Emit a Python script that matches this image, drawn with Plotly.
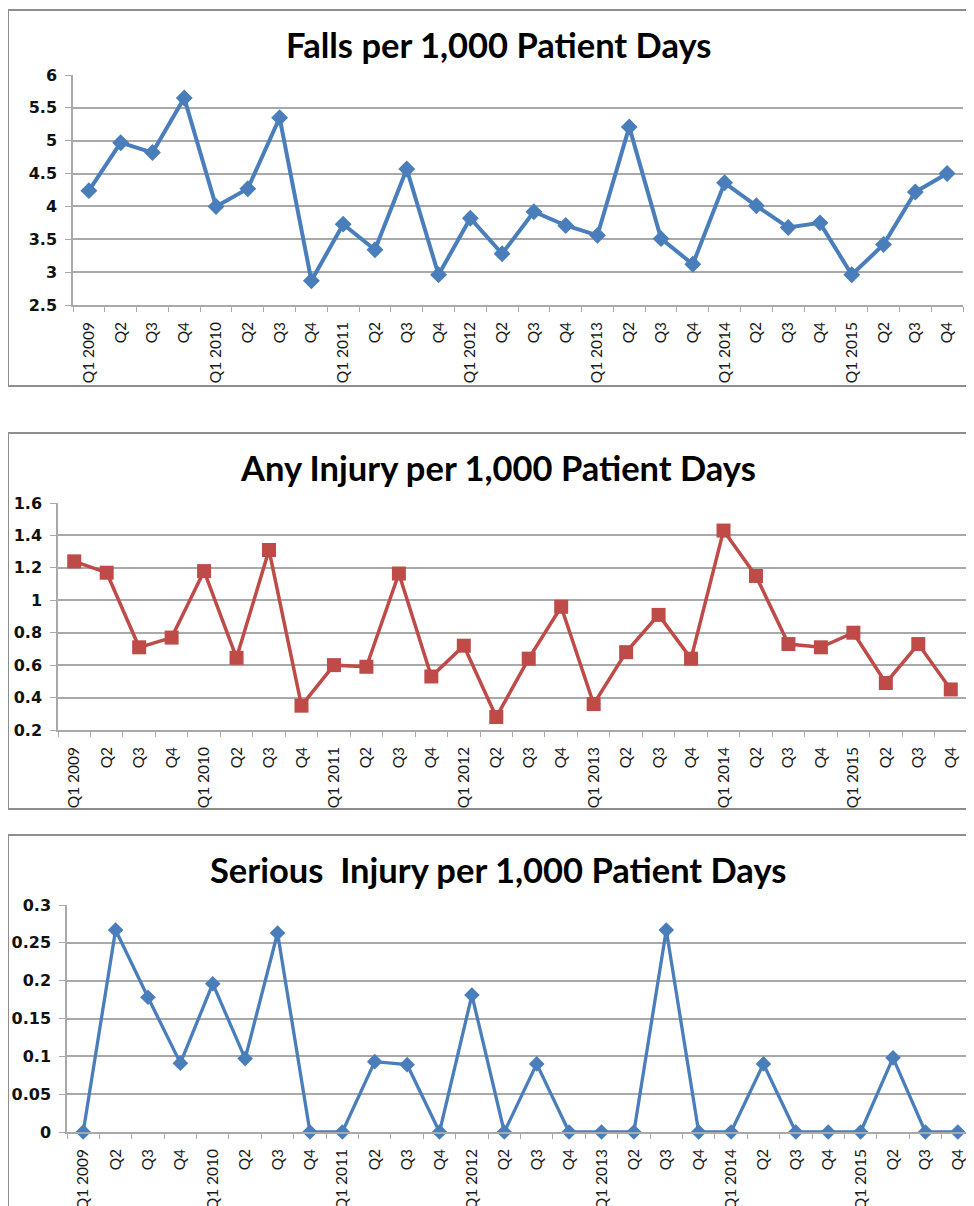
import plotly.graph_objects as go

# ---------------- data ----------------
quarters = ["Q1 2009", "Q2", "Q3", "Q4",
            "Q1 2010", "Q2", "Q3", "Q4",
            "Q1 2011", "Q2", "Q3", "Q4",
            "Q1 2012", "Q2", "Q3", "Q4",
            "Q1 2013", "Q2", "Q3", "Q4",
            "Q1 2014", "Q2", "Q3", "Q4",
            "Q1 2015", "Q2", "Q3", "Q4"]

falls = [4.24, 4.97, 4.82, 5.65, 4.00, 4.27, 5.35, 2.87,
         3.73, 3.34, 4.57, 2.96, 3.82, 3.28, 3.92, 3.71,
         3.56, 5.21, 3.51, 3.12, 4.36, 4.01, 3.68, 3.75,
         2.96, 3.42, 4.22, 4.50]

any_injury = [1.24, 1.17, 0.71, 0.77, 1.18, 0.645, 1.31, 0.35,
              0.60, 0.59, 1.165, 0.53, 0.72, 0.28, 0.64, 0.96,
              0.36, 0.68, 0.91, 0.64, 1.43, 1.15, 0.73, 0.71,
              0.80, 0.49, 0.73, 0.45]

serious = [0.0, 0.267, 0.178, 0.091, 0.196, 0.097, 0.263, 0.0,
           0.0, 0.093, 0.089, 0.0, 0.181, 0.0, 0.090, 0.0,
           0.0, 0.0, 0.267, 0.0, 0.0, 0.090, 0.0, 0.0,
           0.0, 0.098, 0.0, 0.0]

titles = ["Falls per 1,000 Patient Days",
          "Any Injury per 1,000 Patient Days",
          "Serious  Injury per 1,000 Patient Days"]

y_ranges = [[2.5, 6.0], [0.2, 1.6], [0.0, 0.3]]
y_dticks = [0.5, 0.2, 0.05]

# ---------------- layout helpers ----------------
# The page places the figure 8px from the top-left corner (body margin),
# so the figure is sized to end exactly at the window edge.
OFF = 8
W, H = 974 - OFF, 1206 - OFF
xi = list(range(len(quarters)))


def fx(p):
    return (p - OFF) / W


def fy(p):
    return 1 - (p - OFF) / H


BLUE = "#4A7EBB"
RED = "#BE4B48"
GRID = "#A9A9A9"
BORDER = "#8E8E8E"

# pixel geometry (window coords) of each panel: plot-area left, right, top, bottom;
# border top, bottom; title centre y
panels = [
    dict(l=73, r=963, t=75, b=305, bt=10, bb=386, ty=45),
    dict(l=58, r=967, t=503, b=730, bt=433, bb=809, ty=467),
    dict(l=67, r=974, t=905, b=1132, bt=835, bb=1230, ty=869),
]
series = [falls, any_injury, serious]
styles = [
    dict(color=BLUE, symbol="diamond", size=13, width=4),
    dict(color=RED, symbol="square", size=14, width=3.5),
    dict(color=BLUE, symbol="diamond", size=12, width=3.3),
]

fig = go.Figure()
shapes = []
annotations = []

for i, (p, ys, st) in enumerate(zip(panels, series, styles)):
    n = "" if i == 0 else str(i + 1)
    fig.add_trace(go.Scatter(
        x=xi, y=ys, mode="lines+markers",
        line=dict(color=st["color"], width=st["width"]),
        marker=dict(symbol=st["symbol"], size=st["size"], color=st["color"]),
        cliponaxis=False, showlegend=False,
        xaxis="x" + n, yaxis="y" + n,
    ))
    fig.layout["xaxis" + n] = dict(
        domain=[fx(p["l"]), min(1.0, fx(p["r"]))],
        anchor="y" + n,
        automargin=False,
        range=[-0.5, len(quarters) - 0.5],
        tickmode="array", tickvals=xi, ticktext=quarters,
        tickangle=-90,
        ticks="outside", ticklen=5, tickcolor="rgba(0,0,0,0)",
        ticklabelstandoff=4,
        minor=dict(tick0=-0.5, dtick=1, ticks="outside", ticklen=5,
                   tickcolor=GRID, tickwidth=1.2, showgrid=False),
        showgrid=False, zeroline=False,
        showline=True, linecolor=GRID, linewidth=1.5,
        tickfont=dict(family="Lato", size=15.5, color="#1a1a1a"),
        fixedrange=True,
    )
    fig.layout["yaxis" + n] = dict(
        domain=[fy(p["b"]), fy(p["t"])],
        anchor="x" + n,
        automargin=False,
        range=y_ranges[i], dtick=y_dticks[i], tick0=0,
        ticks="outside", ticklen=6, tickcolor=GRID, tickwidth=1.2,
        ticklabelstandoff=5,
        showgrid=True, gridcolor=GRID, gridwidth=1.5,
        zeroline=False,
        showline=True, linecolor=GRID, linewidth=1.5,
        tickfont=dict(family="DejaVu Sans", size=16, color="#111111", weight="bold"),
        fixedrange=True,
    )
    shapes.append(dict(type="rect", xref="paper", yref="paper",
                       x0=fx(8), x1=1.03, y0=fy(p["bb"]), y1=fy(p["bt"]),
                       line=dict(color=BORDER, width=2), fillcolor="rgba(0,0,0,0)",
                       layer="below"))
    annotations.append(dict(text=titles[i], xref="paper", yref="paper",
                            x=fx(498), y=fy(p["ty"]), xanchor="center", yanchor="middle",
                            showarrow=False,
                            font=dict(family="Lato", size=34.5, color="#000000", weight="bold")))

fig.update_layout(
    width=W, height=H,
    margin=dict(l=0, r=0, t=0, b=0, pad=0, autoexpand=False),
    paper_bgcolor="white", plot_bgcolor="white",
    shapes=shapes, annotations=annotations,
    showlegend=False,
)

fig.write_html("out.html")
